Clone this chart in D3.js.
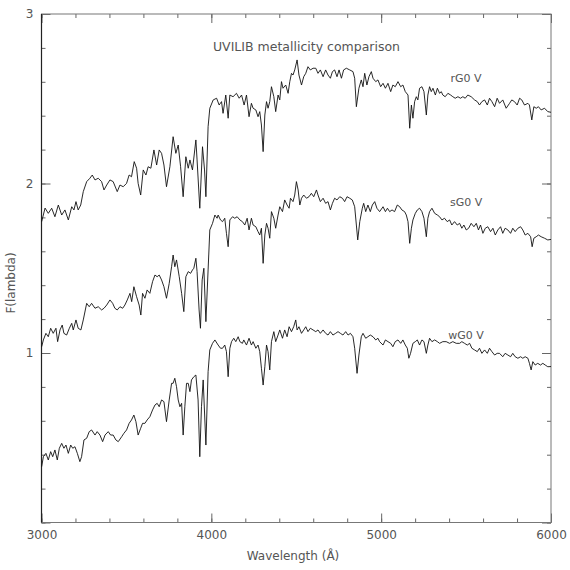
<!DOCTYPE html>
<html>
<head>
<meta charset="utf-8">
<script src="https://cdn.jsdelivr.net/npm/d3@7/dist/d3.min.js"></script>
<style>
  body { margin: 0; background: #fff; }
  text { font-family: 'DejaVu Sans', sans-serif; fill: #555; }
</style>
</head>
<body>
<div id="chart"></div>
<script>
// [wavelength (A), F(lambda)]
const rG0 = [[3001,1.775],[3021,1.855],[3040,1.824],[3060,1.854],[3079,1.804],[3099,1.873],[3119,1.814],[3138,1.844],[3158,1.785],[3178,1.863],[3191,1.844],[3203,1.893],[3216,1.844],[3231,1.873],[3246,1.952],[3266,2.011],[3285,2.031],[3299,2.050],[3315,2.021],[3334,2.031],[3354,2.011],[3368,1.962],[3384,1.991],[3403,2.021],[3422,2.011],[3446,1.952],[3462,1.991],[3481,1.981],[3501,2.001],[3516,2.050],[3530,2.040],[3546,2.129],[3560,2.090],[3569,2.001],[3584,1.932],[3599,2.080],[3615,2.050],[3628,2.099],[3644,2.090],[3662,2.198],[3678,2.109],[3693,2.198],[3707,2.178],[3721,2.109],[3736,1.981],[3756,2.099],[3775,2.276],[3791,2.178],[3805,2.227],[3819,2.099],[3834,1.922],[3850,2.158],[3864,2.090],[3874,2.139],[3889,2.080],[3909,2.257],[3916,2.139],[3932,1.854],[3948,2.217],[3960,2.080],[3968,1.922],[3981,2.335],[3991,2.444],[4011,2.493],[4031,2.503],[4046,2.463],[4060,2.483],[4069,2.414],[4085,2.522],[4099,2.385],[4109,2.522],[4128,2.512],[4148,2.532],[4164,2.503],[4178,2.522],[4193,2.463],[4207,2.522],[4222,2.394],[4236,2.473],[4246,2.444],[4262,2.434],[4275,2.394],[4285,2.424],[4295,2.345],[4305,2.188],[4315,2.404],[4325,2.483],[4334,2.444],[4344,2.483],[4354,2.571],[4368,2.512],[4379,2.424],[4393,2.522],[4403,2.493],[4413,2.601],[4422,2.562],[4438,2.581],[4452,2.532],[4462,2.601],[4472,2.650],[4481,2.640],[4491,2.670],[4505,2.729],[4516,2.640],[4531,2.581],[4544,2.630],[4556,2.650],[4569,2.689],[4583,2.670],[4599,2.680],[4615,2.680],[4628,2.650],[4642,2.670],[4658,2.630],[4673,2.670],[4687,2.640],[4701,2.621],[4713,2.660],[4726,2.670],[4740,2.630],[4752,2.670],[4766,2.621],[4779,2.670],[4795,2.680],[4815,2.670],[4834,2.660],[4844,2.621],[4854,2.453],[4869,2.562],[4883,2.611],[4893,2.571],[4903,2.650],[4916,2.581],[4928,2.630],[4942,2.660],[4952,2.621],[4968,2.601],[4981,2.611],[4997,2.571],[5011,2.591],[5025,2.562],[5040,2.591],[5056,2.542],[5069,2.581],[5083,2.571],[5099,2.601],[5115,2.571],[5128,2.581],[5142,2.542],[5158,2.522],[5168,2.326],[5178,2.463],[5187,2.385],[5197,2.483],[5207,2.512],[5216,2.493],[5226,2.562],[5240,2.571],[5252,2.542],[5266,2.404],[5275,2.522],[5285,2.571],[5295,2.542],[5305,2.562],[5319,2.522],[5331,2.562],[5344,2.532],[5354,2.542],[5363,2.522],[5377,2.512],[5393,2.532],[5409,2.522],[5422,2.512],[5436,2.503],[5452,2.512],[5467,2.503],[5481,2.512],[5495,2.503],[5510,2.522],[5530,2.512],[5550,2.493],[5566,2.483],[5579,2.463],[5593,2.483],[5609,2.493],[5625,2.463],[5638,2.503],[5652,2.483],[5668,2.453],[5683,2.503],[5697,2.473],[5716,2.493],[5736,2.444],[5756,2.473],[5769,2.493],[5785,2.483],[5801,2.463],[5815,2.503],[5828,2.493],[5844,2.463],[5864,2.473],[5873,2.463],[5887,2.375],[5899,2.453],[5913,2.444],[5926,2.453],[5942,2.434],[5962,2.444],[5981,2.424],[6000,2.420]];

const sG0 = [[3001,1.037],[3011,1.077],[3026,1.116],[3040,1.096],[3054,1.146],[3069,1.116],[3085,1.146],[3095,1.067],[3109,1.136],[3122,1.165],[3132,1.116],[3148,1.106],[3164,1.146],[3178,1.175],[3187,1.136],[3203,1.195],[3216,1.146],[3232,1.136],[3246,1.195],[3266,1.293],[3281,1.273],[3295,1.293],[3315,1.264],[3334,1.273],[3354,1.254],[3368,1.264],[3384,1.283],[3403,1.313],[3419,1.293],[3432,1.264],[3446,1.254],[3462,1.273],[3478,1.264],[3491,1.283],[3505,1.313],[3521,1.352],[3531,1.303],[3544,1.391],[3560,1.332],[3575,1.283],[3585,1.224],[3595,1.352],[3609,1.323],[3622,1.372],[3638,1.352],[3654,1.421],[3668,1.460],[3681,1.450],[3693,1.460],[3707,1.431],[3721,1.391],[3736,1.323],[3752,1.411],[3766,1.509],[3775,1.578],[3785,1.509],[3795,1.549],[3811,1.450],[3825,1.352],[3838,1.244],[3850,1.450],[3864,1.480],[3878,1.470],[3889,1.490],[3897,1.500],[3909,1.559],[3916,1.480],[3928,1.254],[3936,1.146],[3946,1.431],[3956,1.500],[3968,1.185],[3981,1.490],[3991,1.726],[4007,1.765],[4021,1.814],[4034,1.795],[4040,1.814],[4054,1.785],[4066,1.775],[4079,1.795],[4089,1.706],[4099,1.627],[4109,1.785],[4125,1.804],[4138,1.795],[4152,1.804],[4168,1.785],[4183,1.775],[4197,1.755],[4211,1.795],[4222,1.726],[4236,1.795],[4246,1.755],[4262,1.745],[4275,1.716],[4285,1.696],[4295,1.736],[4305,1.529],[4315,1.696],[4325,1.765],[4334,1.736],[4344,1.677],[4354,1.834],[4368,1.795],[4379,1.736],[4393,1.814],[4403,1.863],[4419,1.834],[4432,1.903],[4446,1.873],[4458,1.854],[4466,1.913],[4481,1.893],[4491,1.932],[4501,2.011],[4511,1.962],[4521,1.873],[4531,1.913],[4544,1.932],[4560,1.913],[4575,1.922],[4589,1.942],[4603,1.922],[4619,1.962],[4628,1.932],[4642,1.893],[4658,1.913],[4673,1.883],[4687,1.893],[4701,1.844],[4713,1.883],[4726,1.913],[4740,1.903],[4756,1.922],[4772,1.913],[4785,1.893],[4799,1.922],[4815,1.913],[4830,1.903],[4844,1.863],[4854,1.755],[4862,1.667],[4874,1.775],[4889,1.854],[4897,1.883],[4909,1.834],[4922,1.873],[4936,1.834],[4948,1.873],[4962,1.893],[4975,1.854],[4991,1.834],[5011,1.863],[5025,1.834],[5037,1.854],[5050,1.834],[5064,1.844],[5079,1.834],[5095,1.873],[5109,1.863],[5122,1.844],[5138,1.834],[5148,1.814],[5158,1.775],[5168,1.647],[5178,1.736],[5187,1.785],[5201,1.824],[5213,1.844],[5226,1.854],[5240,1.834],[5252,1.795],[5266,1.686],[5275,1.795],[5285,1.834],[5299,1.854],[5315,1.824],[5331,1.814],[5344,1.804],[5358,1.785],[5373,1.795],[5389,1.775],[5403,1.785],[5416,1.755],[5432,1.775],[5448,1.755],[5462,1.765],[5475,1.736],[5487,1.755],[5501,1.726],[5515,1.736],[5530,1.765],[5546,1.745],[5560,1.765],[5573,1.726],[5585,1.755],[5599,1.706],[5613,1.736],[5628,1.745],[5644,1.716],[5658,1.736],[5672,1.696],[5687,1.726],[5703,1.745],[5716,1.706],[5730,1.736],[5746,1.726],[5762,1.706],[5775,1.736],[5789,1.716],[5805,1.736],[5821,1.745],[5834,1.726],[5848,1.696],[5864,1.706],[5880,1.686],[5889,1.627],[5899,1.677],[5913,1.686],[5926,1.696],[5942,1.686],[5962,1.677],[5981,1.667],[6000,1.670]];

const wG0 = [[3001,0.329],[3011,0.388],[3026,0.408],[3040,0.369],[3054,0.418],[3066,0.388],[3079,0.428],[3093,0.369],[3105,0.438],[3119,0.467],[3132,0.438],[3144,0.457],[3158,0.408],[3172,0.457],[3184,0.438],[3197,0.447],[3211,0.408],[3226,0.359],[3236,0.388],[3250,0.487],[3266,0.497],[3281,0.536],[3295,0.546],[3315,0.516],[3328,0.536],[3344,0.516],[3360,0.477],[3374,0.516],[3393,0.536],[3407,0.516],[3422,0.516],[3438,0.487],[3452,0.477],[3472,0.506],[3485,0.526],[3501,0.546],[3516,0.585],[3530,0.605],[3544,0.634],[3556,0.595],[3569,0.516],[3584,0.556],[3595,0.585],[3609,0.585],[3622,0.605],[3638,0.624],[3654,0.664],[3668,0.693],[3681,0.703],[3693,0.683],[3707,0.723],[3721,0.713],[3736,0.595],[3752,0.723],[3766,0.821],[3775,0.821],[3785,0.851],[3795,0.801],[3805,0.723],[3815,0.683],[3825,0.703],[3834,0.516],[3844,0.683],[3854,0.821],[3864,0.821],[3874,0.772],[3883,0.841],[3897,0.860],[3909,0.870],[3922,0.723],[3932,0.388],[3942,0.683],[3952,0.841],[3968,0.457],[3981,0.890],[3991,1.018],[4007,1.057],[4021,1.077],[4040,1.047],[4054,1.028],[4066,1.028],[4079,1.047],[4089,1.008],[4099,0.860],[4109,1.028],[4119,1.067],[4132,1.087],[4144,1.067],[4158,1.096],[4168,1.067],[4183,1.057],[4191,1.077],[4207,1.047],[4222,1.087],[4236,1.047],[4246,1.067],[4262,1.028],[4275,1.047],[4285,1.008],[4295,0.910],[4305,0.811],[4315,0.919],[4325,1.047],[4334,1.008],[4344,0.900],[4354,1.067],[4368,1.126],[4379,1.067],[4393,1.106],[4403,1.136],[4419,1.087],[4432,1.136],[4446,1.096],[4458,1.155],[4472,1.126],[4485,1.155],[4497,1.195],[4505,1.136],[4516,1.155],[4531,1.116],[4544,1.136],[4556,1.155],[4569,1.126],[4583,1.146],[4599,1.136],[4615,1.126],[4628,1.136],[4642,1.116],[4658,1.136],[4673,1.116],[4687,1.106],[4701,1.126],[4716,1.106],[4732,1.116],[4746,1.126],[4760,1.116],[4775,1.106],[4791,1.126],[4805,1.106],[4819,1.116],[4834,1.096],[4844,1.028],[4858,0.880],[4869,0.988],[4883,1.096],[4893,1.116],[4909,1.087],[4922,1.096],[4936,1.106],[4952,1.096],[4968,1.077],[4981,1.087],[4991,1.067],[5011,1.047],[5025,1.077],[5040,1.067],[5056,1.057],[5069,1.037],[5083,1.067],[5099,1.077],[5115,1.057],[5128,1.077],[5142,1.047],[5154,1.028],[5163,0.969],[5173,0.998],[5187,1.057],[5201,1.067],[5213,1.077],[5226,1.047],[5240,1.077],[5252,1.067],[5266,0.998],[5275,1.047],[5285,1.087],[5299,1.067],[5315,1.077],[5331,1.067],[5344,1.057],[5363,1.067],[5383,1.067],[5403,1.057],[5422,1.067],[5442,1.057],[5462,1.057],[5475,1.067],[5491,1.057],[5507,1.047],[5521,1.057],[5534,1.028],[5550,1.018],[5566,1.008],[5579,1.028],[5593,0.998],[5609,1.018],[5625,0.998],[5638,1.028],[5652,1.008],[5668,0.988],[5683,0.998],[5697,0.998],[5716,0.978],[5730,0.998],[5746,0.988],[5762,0.978],[5775,0.998],[5789,0.978],[5805,0.969],[5821,0.978],[5834,0.969],[5848,0.978],[5864,0.969],[5873,0.939],[5883,0.900],[5893,0.949],[5907,0.929],[5922,0.939],[5938,0.929],[5952,0.939],[5966,0.929],[5981,0.919],[6000,0.920]];

const seriesNames = ['rG0 V', 'sG0 V', 'wG0 V'];
const xMajorTicks = [3000, 4000, 5000, 6000];
const yMajorTicks = [0, 1, 2, 3];

const width = 570, height = 570;
const margin = { top: 14, right: 19, bottom: 47.5, left: 41.5 };

const svg = d3.select('#chart').append('svg')
  .attr('width', width)
  .attr('height', height)
  .style('background', '#fff');

const x = d3.scaleLinear().domain([3000, 6000]).range([margin.left, width - margin.right]);
const y = d3.scaleLinear().domain([0, 3]).range([height - margin.bottom, margin.top]);

//minor + major ticks on all four sides, pointing inward
const styleAxis = (g) => {
  g.select('.domain').remove();
  g.selectAll('.tick line').attr('stroke', '#666');
  g.selectAll('.tick text').style('font-size', '12px').attr('fill', '#555');
};

svg.append('g').attr('transform', `translate(0,${y(0)})`)
  .call(d3.axisBottom(x).tickValues(d3.range(3000, 6001, 200)).tickSize(-4).tickFormat(''))
  .call(styleAxis);
svg.append('g').attr('transform', `translate(0,${y(0)})`)
  .call(d3.axisBottom(x).tickValues(xMajorTicks).tickSize(-9).tickPadding(8).tickFormat(d3.format('d')))
  .call(styleAxis);
svg.append('g').attr('transform', `translate(0,${y(3)})`)
  .call(d3.axisTop(x).tickValues(d3.range(3000, 6001, 200)).tickSize(-4).tickFormat(''))
  .call(styleAxis);
svg.append('g').attr('transform', `translate(0,${y(3)})`)
  .call(d3.axisTop(x).tickValues(xMajorTicks).tickSize(-9).tickFormat(''))
  .call(styleAxis);

svg.append('g').attr('transform', `translate(${x(3000)},0)`)
  .call(d3.axisLeft(y).tickValues(d3.range(0, 3.01, 0.2)).tickSize(-4).tickFormat(''))
  .call(styleAxis);
svg.append('g').attr('transform', `translate(${x(3000)},0)`)
  .call(d3.axisLeft(y).tickValues(yMajorTicks).tickSize(-9).tickPadding(8)
    .tickFormat((d) => (d === 0 ? '' : d)))
  .call(styleAxis);
svg.append('g').attr('transform', `translate(${x(6000)},0)`)
  .call(d3.axisRight(y).tickValues(d3.range(0, 3.01, 0.2)).tickSize(-4).tickFormat(''))
  .call(styleAxis);
svg.append('g').attr('transform', `translate(${x(6000)},0)`)
  .call(d3.axisRight(y).tickValues(yMajorTicks).tickSize(-9).tickFormat(''))
  .call(styleAxis);

//frame: left side darker like the original
svg.append('rect')
  .attr('x', x(3000)).attr('y', y(3))
  .attr('width', x(6000) - x(3000)).attr('height', y(0) - y(3))
  .attr('fill', 'none').attr('stroke', '#777').attr('stroke-width', 1);
svg.append('line')
  .attr('x1', x(3000)).attr('x2', x(3000)).attr('y1', y(3)).attr('y2', y(0))
  .attr('stroke', '#222').attr('stroke-width', 1.2);

//spectra
const line = d3.line().x((d) => x(d[0])).y((d) => y(d[1]));
svg.selectAll('.spectrum')
  .data([rG0, sG0, wG0])
  .enter()
  .append('path')
  .attr('class', 'spectrum')
  .attr('d', line)
  .attr('fill', 'none')
  .attr('stroke', '#111')
  .attr('stroke-width', 0.9)
  .attr('stroke-linejoin', 'round');

//series labels sit above the red end of each curve
const labelAt = [[5500, 2.6], [5500, 1.868], [5500, 1.085]];
svg.selectAll('.slabel')
  .data(seriesNames)
  .enter()
  .append('text')
  .attr('class', 'slabel')
  .attr('x', (d, i) => x(labelAt[i][0]))
  .attr('y', (d, i) => y(labelAt[i][1]))
  .attr('text-anchor', 'middle')
  .style('font-size', '11px')
  .text((d) => d);

svg.append('text')
  .attr('x', 306.5).attr('y', 51)
  .attr('text-anchor', 'middle')
  .style('font-size', '12.5px')
  .text('UVILIB metallicity comparison');

svg.append('text')
  .attr('x', 293).attr('y', 560)
  .attr('text-anchor', 'middle')
  .style('font-size', '12px')
  .text('Wavelength (Å)');

svg.append('text')
  .attr('transform', 'translate(15,283) rotate(-90)')
  .attr('text-anchor', 'middle')
  .style('font-size', '12px')
  .text('F(lambda)');
</script>
</body>
</html>
